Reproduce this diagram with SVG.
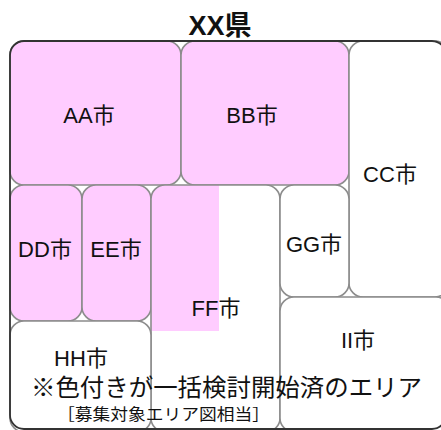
<svg xmlns="http://www.w3.org/2000/svg" width="441" height="430" viewBox="0 0 441 430">
<defs>
<style>
.cell{stroke:#8c8c8c;stroke-width:1.6;}
.pink{fill:#ffccff;}
.white{fill:#ffffff;}
.lbl{font-family:"Liberation Sans","Noto Sans CJK JP",sans-serif;font-size:22px;fill:#111;text-anchor:middle;}
.note{font-family:"Noto Sans CJK JP","Noto Sans",sans-serif;fill:#111;}
</style>
<clipPath id="ffclip"><rect x="151" y="185" width="129" height="247" rx="14"/></clipPath>
</defs>
<rect width="441" height="430" fill="#ffffff"/>
<text x="220" y="35" font-family="'Liberation Sans','Noto Sans CJK JP',sans-serif" font-size="27" font-weight="bold" text-anchor="middle" fill="#111">XX県</text>
<g id="AA"><rect class="cell pink" x="10" y="41" width="171" height="144" rx="14"/><text class="lbl" x="89" y="123">AA市</text></g>
<g id="BB"><rect class="cell pink" x="181" y="41" width="168" height="144" rx="14"/><text class="lbl" x="252" y="123">BB市</text></g>
<g id="CC"><rect class="cell white" x="349" y="41" width="100" height="256" rx="14"/><text class="lbl" x="390" y="182">CC市</text></g>
<g id="DD"><rect class="cell pink" x="10" y="185" width="72" height="136" rx="14"/><text class="lbl" x="45" y="257">DD市</text></g>
<g id="EE"><rect class="cell pink" x="82" y="185" width="69" height="136" rx="14"/><text class="lbl" x="116" y="257">EE市</text></g>
<g id="FF"><rect class="white" x="151" y="185" width="129" height="247" rx="14"/><rect class="pink" x="151" y="185" width="68" height="146" clip-path="url(#ffclip)"/><rect class="cell" fill="none" x="151" y="185" width="129" height="247" rx="14"/><text class="lbl" x="216" y="316">FF市</text></g>
<g id="GG"><rect class="cell white" x="280" y="185" width="69" height="112" rx="14"/><text class="lbl" x="314" y="252">GG市</text></g>
<g id="II"><rect class="cell white" x="280" y="297" width="170" height="135" rx="14"/><text class="lbl" x="358" y="348">II市</text></g>
<g id="HH"><rect class="cell white" x="10" y="321" width="141" height="111" rx="14"/><text class="lbl" x="81" y="366">HH市</text></g>
<rect id="frame" x="10" y="41" width="436" height="388" rx="14" fill="none" stroke="#333" stroke-width="1.8"/>
<text class="note" x="31" y="396" font-size="24" textLength="391" lengthAdjust="spacingAndGlyphs">※色付きが一括検討開始済のエリア</text>
<text class="note" x="57" y="420" font-size="16" textLength="213" lengthAdjust="spacingAndGlyphs">［募集対象エリア図相当］</text>
</svg>
